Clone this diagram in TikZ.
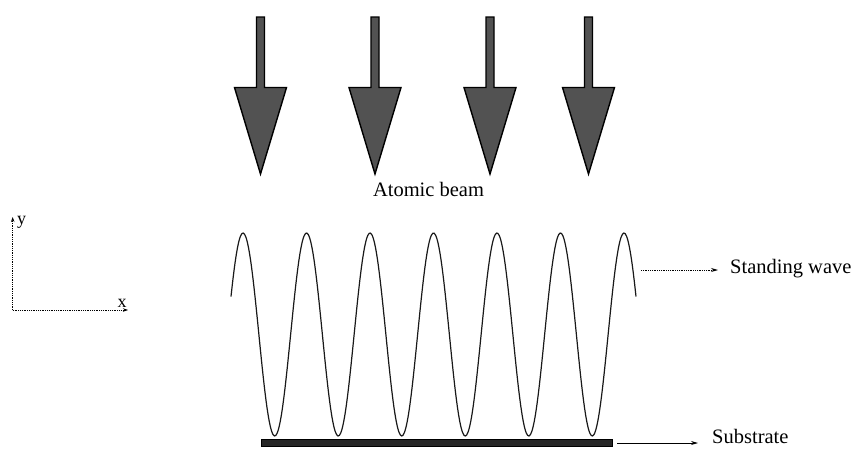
\documentclass[tikz,border=0pt]{standalone}
\usepackage{fontspec}
\setmainfont{Liberation Serif}
\usetikzlibrary{arrows.meta}
\begin{document}
\begin{tikzpicture}[x=1pt,y=-1pt,
  beamarrow/.style={draw=black,line width=1.4pt,fill=black!68,line join=miter},
  lbl/.style={inner sep=0pt,font=\fontsize{20.5}{24}\selectfont},
  axlbl/.style={inner sep=0pt,font=\fontsize{18}{20}\selectfont},
  axline/.style={densely dotted,line width=0.8pt,-{Stealth[length=5pt,width=3.5pt]}},
  pointer/.style={line width=0.8pt,-{Stealth[length=7pt,width=4pt]}},
  wave/.style={line width=1.2pt,black!90}]
\useasboundingbox (0,0) rectangle (856,448);
% atomic beam arrows
\foreach \c in {260.5,375,490,588.5}{
  \path[beamarrow] (\c-4,17) -- (\c-4,87.5) -- (\c-26,87.5) -- (\c,174) -- (\c+26,87.5) -- (\c+4,87.5) -- (\c+4,17) -- cycle;
}
\node[lbl,anchor=base] (beam) at (428.5,196) {Atomic beam};
% axes
\coordinate (O) at (12.7,310);
\coordinate (ytip) at (12.7,217);
\coordinate (xtip) at (128,310);
\draw[axline] (O) -- (ytip);
\draw[axline] (O) -- (xtip);
\node[axlbl,anchor=base west] (ylab) at (17,224) {y};
\node[axlbl,anchor=base] (xlab) at (122,307) {x};
% standing wave
\draw[wave,smooth] plot[domain=231:636,samples=300] (\x,{334.5-101.5*cos((\x-243)/63.5*360)});
\coordinate (swstart) at (641,270);
\coordinate (swend) at (718,270);
\node[lbl,anchor=base west] (sw) at (730,273.5) {Standing wave};
\draw[pointer,densely dotted] (swstart) -- (swend);
% substrate
\node[draw=black,fill=black!85,minimum width=351pt,minimum height=7pt,inner sep=0pt,anchor=north west] (sub) at (261,439) {};
\node[lbl,anchor=base west] (subl) at (712,443.5) {Substrate};
\coordinate (subend) at (698,443);
\draw[pointer] (sub.east |- subend) ++(5,0) -- (subend);
\end{tikzpicture}
\end{document}
